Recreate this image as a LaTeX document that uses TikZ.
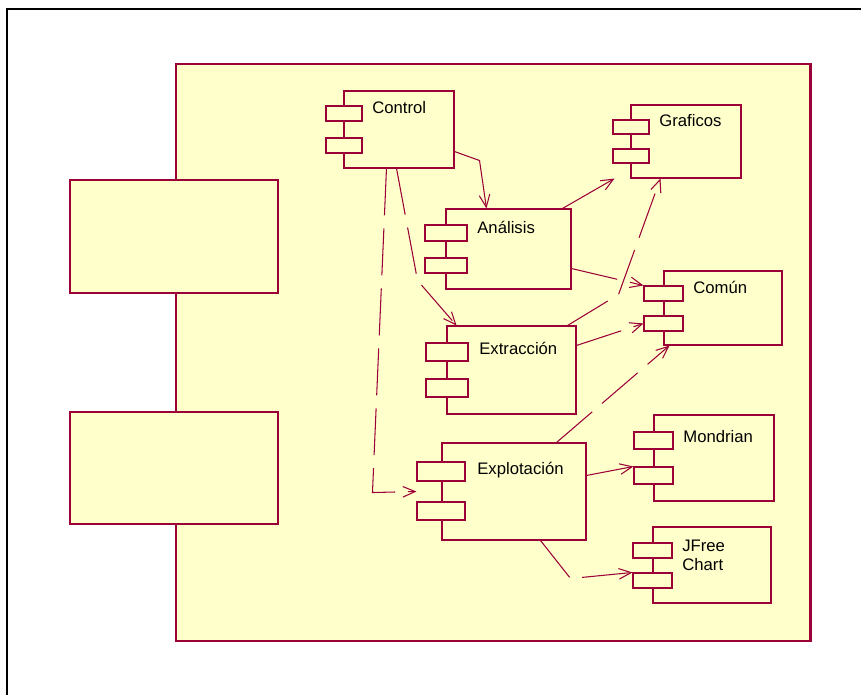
\documentclass[tikz,border=0pt]{standalone}
\usepackage{fontspec}
\setmainfont{Liberation Sans}
\usetikzlibrary{arrows.meta,fit}
\definecolor{umlred}{HTML}{9B0036}
\definecolor{umlfill}{HTML}{FFFFCC}
\tikzset{
    pkg/.style={draw=umlred, line width=1.7pt, fill=umlfill, inner sep=0pt},
    comp/.style={draw=umlred, line width=0.6pt, fill=umlfill, inner sep=0pt},
    lbl/.style={inner sep=0pt, anchor=base west, font=\fontsize{9.5}{10.5}\selectfont},
    dep/.style={draw=umlred, line width=0.6pt, ->},
    depdash/.style={dep, dash pattern=on 0.94cm off 0.26cm},
}
\begin{document}
\begin{tikzpicture}[x=0.02cm, y=-0.02cm, >={Straight Barb[length=7pt,width=6pt]}]
    \useasboundingbox (0,0) rectangle (861,695);

    % marco exterior
    \draw[line width=0.9pt] (861,9) -- (7,9) -- (7,695);

    % paquete y sus dos interfaces
    \node[pkg, fit={(176,64) (810,641)}] (sys) {};
    \node[pkg, fit={(70,180) (278,293)}] (ifaceA) {};
    \node[pkg, fit={(70,412) (278,524)}] (ifaceB) {};

    % componentes
    \node[comp, fit={(344,91) (454,168)}] (ctrl) {};
    \node[comp, fit={(326,106) (362,121)}] (ctrlA) {};
    \node[comp, fit={(326,138) (362,153)}] (ctrlB) {};
    \node[lbl] (ctrlT) at (372,114) {Control};

    \node[comp, fit={(446,209) (571,289)}] (anal) {};
    \node[comp, fit={(425,225) (467,241)}] (analA) {};
    \node[comp, fit={(425,258) (467,273)}] (analB) {};
    \node[lbl] (analT) at (477,234) {Análisis};

    \node[comp, fit={(631,105) (741,178)}] (graf) {};
    \node[comp, fit={(613,120) (649,134)}] (grafA) {};
    \node[comp, fit={(613,149) (649,163)}] (grafB) {};
    \node[lbl] (grafT) at (659,127) {Graficos};

    \node[comp, fit={(664,271) (782,345)}] (comun) {};
    \node[comp, fit={(644,286) (683,301)}] (comA) {};
    \node[comp, fit={(644,316) (683,331)}] (comB) {};
    \node[lbl] (comT) at (693,294) {Común};

    \node[comp, fit={(447,326) (576,414)}] (extr) {};
    \node[comp, fit={(426,343) (468,361)}] (extrA) {};
    \node[comp, fit={(426,379) (468,397)}] (extrB) {};
    \node[lbl] (extrT) at (479,355) {Extracción};

    \node[comp, fit={(442,443) (586,540)}] (expl) {};
    \node[comp, fit={(417,462) (465,481)}] (explA) {};
    \node[comp, fit={(417,502) (465,520)}] (explB) {};
    \node[lbl] (explT) at (477,474) {Explotación};

    \node[comp, fit={(654,415) (774,501)}] (mond) {};
    \node[comp, fit={(634,432) (673,449)}] (mondA) {};
    \node[comp, fit={(634,467) (673,484)}] (mondB) {};
    \node[lbl] (mondT) at (683,442) {Mondrian};

    \node[comp, fit={(653,527) (771,603)}] (jf) {};
    \node[comp, fit={(633,543) (672,558)}] (jfA) {};
    \node[comp, fit={(633,573) (672,588)}] (jfB) {};
    \node[lbl, anchor=north west, align=left] (jfT) at (682,540) {JFree\\Chart};

    % dependencias
    \draw[dep] ([shift={(0,-17)}]ctrl.south east) -- ++(25,9) -- ([shift={(41,0)}]anal.north west);
    \draw[depdash] ([shift={(-58,0)}]ctrl.south east) -- ++(21,112) -- ([shift={(10,0)}]extr.north west);
    \draw[depdash] ([shift={(43,0)}]ctrl.south west) -- ++(-14,324) -- ([shift={(-25,0)}]expl.west);
    \draw[dep] ([shift={(-9,0)}]anal.north east) -- ([shift={(-16,0)}]graf.south west);
    \draw[depdash] ([shift={(0,-21)}]anal.south east) -- (comA.north west);
    \draw[depdash] ([shift={(-9,0)}]extr.north east) -- ++(51,-31) -- ([shift={(30,0)}]graf.south west);
    \draw[depdash] ([shift={(0,20)}]extr.north east) -- (comB.west);
    \draw[depdash] ([shift={(-30,0)}]expl.north east) -- ([shift={(6,0)}]comun.south west);
    \draw[dep] ([shift={(0,33)}]expl.north east) -- (mondB.north west);
    \draw[depdash] ([shift={(-46,0)}]expl.south east) -- ++(30,38) -- (jfB.north west);
\end{tikzpicture}
\end{document}
